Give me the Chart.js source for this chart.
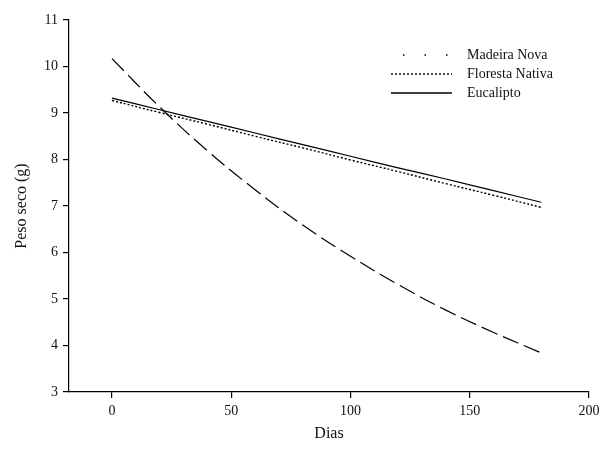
<!DOCTYPE html>
<html>
<head>
<meta charset="utf-8">
<script src="https://cdn.jsdelivr.net/npm/chart.js@4"></script>
<style>
  html, body { margin: 0; padding: 0; background: #fff; }
  #wrap { width: 599px; height: 452px; }
</style>
</head>
<body>
<div id="wrap"><canvas id="chart"></canvas></div>
<script>
// values
const dias = [0, 20, 40, 60, 80, 100, 120, 140, 160, 180];
const madeiraNova = [10.17, 9.13, 8.19, 7.35, 6.59, 5.92, 5.31, 4.76, 4.28, 3.84];
const florestaNativa = [9.27, 9.01, 8.76, 8.50, 8.25, 7.99, 7.74, 7.48, 7.23, 6.97];
const eucalipto = [9.32, 9.07, 8.82, 8.57, 8.32, 8.07, 7.82, 7.58, 7.33, 7.08];
const xTicks = [0, 50, 100, 150, 200];
const yTicks = [3, 4, 5, 6, 7, 8, 9, 10, 11];
const seriesNames = ['Madeira Nova', 'Floresta Nativa', 'Eucalipto'];

const FONT = "'Liberation Serif', 'Times New Roman', serif";
Chart.defaults.font.family = FONT;
Chart.defaults.color = '#000000';

function pts(ys) {
  return dias.map((d, i) => ({ x: d, y: ys[i] }));
}

// legend drawn inside the plot, top right
const legendSamples = [[1.5, 20], [2, 2], []];
const insideLegend = {
  id: 'insideLegend',
  afterDraw(chart) {
    const ctx = chart.ctx;
    ctx.save();
    ctx.font = '14px ' + FONT;
    ctx.fillStyle = '#111';
    ctx.textBaseline = 'middle';
    seriesNames.forEach((name, i) => {
      const y = 55 + i * 19;
      ctx.beginPath();
      ctx.strokeStyle = '#000';
      ctx.lineWidth = 1.4;
      ctx.setLineDash(legendSamples[i]);
      ctx.lineDashOffset = i === 0 ? -12 : 0;
      ctx.moveTo(391, y);
      ctx.lineTo(452, y);
      ctx.stroke();
      ctx.setLineDash([]);
      ctx.fillText(name, 467, y);
    });
    ctx.restore();
  }
};

const ctx = document.getElementById('chart').getContext('2d');
new Chart(ctx, {
  type: 'line',
  data: {
    datasets: [
      { label: seriesNames[0], data: pts(madeiraNova), borderColor: '#000', borderWidth: 1.2, borderDash: [17, 6], pointRadius: 0, tension: 0.4, fill: false },
      { label: seriesNames[1], data: pts(florestaNativa), borderColor: '#000', borderWidth: 1.4, borderDash: [2, 2], pointRadius: 0, tension: 0.4, fill: false },
      { label: seriesNames[2], data: pts(eucalipto), borderColor: '#000', borderWidth: 1.2, pointRadius: 0, tension: 0.4, fill: false }
    ]
  },
  options: {
    responsive: true,
    maintainAspectRatio: false,
    animation: false,
    layout: { padding: { top: 20, right: 10, left: 0, bottom: 0 } },
    plugins: { legend: { display: false }, tooltip: { enabled: false } },
    scales: {
      x: {
        type: 'linear',
        min: -18,
        max: 200,
        afterBuildTicks: (axis) => { axis.ticks = xTicks.map(v => ({ value: v })); },
        afterFit: (axis) => { axis.height = 60; axis.paddingRight = 0; axis.paddingLeft = 0; },
        grid: { drawOnChartArea: false, drawTicks: true, tickLength: 6, color: '#000', lineWidth: 1.2 },
        border: { display: true, color: '#000', width: 1.2 },
        ticks: { font: { size: 14 }, color: '#111', padding: 5 },
        title: { display: true, text: 'Dias', font: { size: 16 }, color: '#111', padding: { top: 0, bottom: 9 } }
      },
      y: {
        min: 3,
        max: 11,
        afterBuildTicks: (axis) => { axis.ticks = yTicks.map(v => ({ value: v })); },
        afterFit: (axis) => { axis.width = 69; axis.paddingTop = 0; axis.paddingBottom = 0; },
        grid: { drawOnChartArea: false, drawTicks: true, tickLength: 6, color: '#000', lineWidth: 1.2 },
        border: { display: true, color: '#000', width: 1.2 },
        ticks: { font: { size: 14 }, color: '#111', padding: 5 },
        title: { display: true, text: 'Peso seco (g)', font: { size: 16 }, color: '#111', padding: { top: 12, bottom: 0 } }
      }
    }
  },
  plugins: [insideLegend]
});
</script>
</body>
</html>
